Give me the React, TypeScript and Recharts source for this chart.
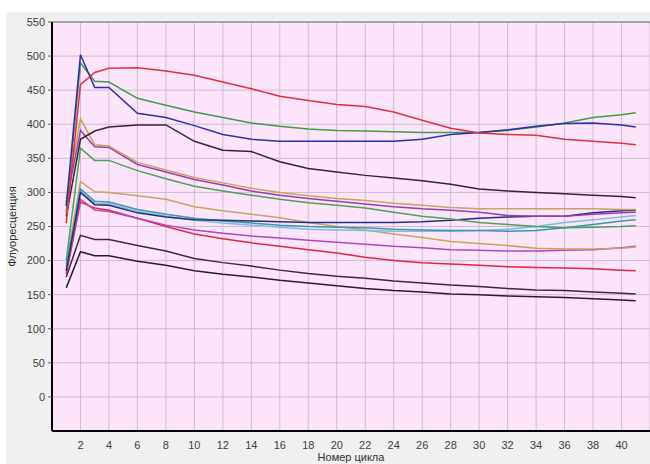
import {
  CartesianGrid,
  Label,
  Line,
  LineChart,
  ReferenceLine,
  XAxis,
  YAxis,
} from "recharts";

// номер цикла
const cycles = [1, 2, 3, 4, 6, 8, 10, 12, 14, 16, 18, 20, 22, 24, 26, 28, 30, 32, 34, 36, 38, 40, 41];

const xTicks = [2, 4, 6, 8, 10, 12, 14, 16, 18, 20, 22, 24, 26, 28, 30, 32, 34, 36, 38, 40];
const yTicks = [0, 50, 100, 150, 200, 250, 300, 350, 400, 450, 500, 550];

// флуоресценция по циклам
const redTop = [255, 458, 476, 482, 483, 478, 472, 462, 452, 441, 435, 429, 426, 418, 406, 394, 387, 385, 384, 378, 375, 372, 370];
const blueTop = [280, 502, 454, 454, 416, 410, 398, 385, 378, 375, 375, 375, 375, 375, 378, 385, 388, 392, 397, 401, 402, 399, 396];
const greenTop = [270, 490, 463, 462, 438, 428, 418, 410, 402, 397, 393, 391, 390, 389, 388, 388, 388, 391, 396, 402, 410, 414, 417];
const blackTop = [265, 378, 390, 396, 399, 399, 375, 362, 360, 345, 335, 330, 325, 321, 317, 312, 305, 302, 300, 298, 296, 294, 292];
const tanTop = [290, 408, 370, 368, 344, 333, 322, 314, 306, 300, 295, 291, 288, 284, 281, 278, 276, 276, 276, 276, 276, 275, 275];
const purpleTop = [285, 391, 367, 366, 341, 330, 319, 311, 302, 296, 291, 287, 283, 279, 276, 274, 271, 266, 265, 265, 268, 270, 271];
const greenMid = [200, 365, 347, 347, 332, 320, 309, 302, 296, 290, 285, 281, 277, 271, 265, 261, 256, 253, 250, 248, 249, 250, 251];
const tanLow = [195, 316, 301, 300, 295, 290, 279, 273, 268, 263, 256, 250, 245, 239, 234, 228, 225, 222, 218, 217, 217, 218, 220];
const teal = [190, 305, 287, 286, 275, 268, 262, 258, 255, 252, 250, 249, 248, 246, 245, 244, 244, 243, 244, 248, 253, 258, 260];
const navy = [185, 300, 282, 281, 270, 264, 260, 259, 258, 257, 256, 256, 256, 256, 257, 259, 262, 264, 265, 265, 270, 273, 274];
const lightBlue = [195, 302, 284, 283, 272, 265, 259, 255, 252, 249, 246, 245, 244, 243, 243, 243, 244, 246, 250, 256, 260, 264, 266];
const magenta = [185, 290, 274, 272, 262, 252, 245, 240, 236, 233, 230, 227, 224, 221, 219, 216, 215, 214, 214, 215, 216, 219, 221];
const redLow = [180, 286, 277, 274, 262, 250, 239, 232, 226, 221, 216, 211, 205, 200, 197, 195, 193, 191, 190, 189, 188, 186, 185];
const black1 = [176, 237, 231, 231, 222, 214, 203, 197, 192, 186, 181, 177, 174, 170, 167, 164, 162, 159, 157, 156, 154, 152, 151];
const black2 = [160, 213, 207, 207, 199, 193, 185, 180, 176, 171, 167, 163, 159, 156, 154, 151, 150, 148, 147, 146, 144, 142, 141];

const series = [
  { key: "black2", values: black2, color: "#2a1e2a" },
  { key: "black1", values: black1, color: "#3a2a3a" },
  { key: "redLow", values: redLow, color: "#e0283a" },
  { key: "magenta", values: magenta, color: "#b244c4" },
  { key: "tanLow", values: tanLow, color: "#c9a260" },
  { key: "lightBlue", values: lightBlue, color: "#7cbce0" },
  { key: "teal", values: teal, color: "#3a98a8" },
  { key: "navy", values: navy, color: "#22307e" },
  { key: "greenMid", values: greenMid, color: "#4ba05a" },
  { key: "purpleTop", values: purpleTop, color: "#9a3cb0" },
  { key: "tanTop", values: tanTop, color: "#c9a260" },
  { key: "blackTop", values: blackTop, color: "#3a2038" },
  { key: "greenTop", values: greenTop, color: "#3f9a4a" },
  { key: "blueTop", values: blueTop, color: "#2e2eaa" },
  { key: "redTop", values: redTop, color: "#e0303a" },
];

const data = cycles.map((c, i) => {
  const row: Record<string, number> = { cycle: c };
  series.forEach((s) => {
    row[s.key] = s.values[i];
  });
  return row;
});

const font = "'Liberation Sans', Arial, sans-serif";

export default function App() {
  return (
    <div style={{ position: "absolute", left: 0, top: 0, width: 650, height: 464, background: "#ffffff", overflow: "hidden" }}>
      <div style={{ position: "absolute", left: 6, top: 12, right: 0, bottom: 0, background: "#f0f0f0" }} />
      <div style={{ position: "absolute", left: 0, top: 0 }}>
        <LineChart width={650} height={464} data={data} margin={{ top: 22, right: 0, bottom: 0, left: 0 }}>
          <CartesianGrid stroke="#cdbccd" fill="#fce4fa" fillOpacity={1} />
          <XAxis
            dataKey="cycle"
            type="number"
            domain={[0, 42]}
            ticks={xTicks}
            height={33}
            axisLine={{ stroke: "#000", strokeWidth: 2 }}
            tickLine={false}
            tickMargin={4}
            tick={{ fontSize: 11, fill: "#404040", fontFamily: font }}
          >
            <Label
              content={({ viewBox }: any) => (
                <text
                  x={viewBox.x + viewBox.width / 2}
                  y={461}
                  textAnchor="middle"
                  fontSize={11}
                  fill="#303030"
                  fontFamily={font}
                >
                  Номер цикла
                </text>
              )}
            />
          </XAxis>
          <YAxis
            type="number"
            domain={[-50, 550]}
            ticks={yTicks}
            width={52}
            axisLine={{ stroke: "#000", strokeWidth: 2 }}
            tickLine={{ stroke: "#606060" }}
            tickSize={4}
            tickMargin={3}
            tick={{ fontSize: 11, fill: "#404040", fontFamily: font }}
          >
            <Label
              content={({ viewBox }: any) => {
                const x = viewBox.x + 12;
                const y = viewBox.y + viewBox.height / 2;
                return (
                  <text
                    x={x}
                    y={y}
                    transform={`rotate(-90 ${x} ${y})`}
                    textAnchor="middle"
                    dominantBaseline="central"
                    fontSize={11}
                    fill="#303030"
                    fontFamily={font}
                  >
                    Флуоресценция
                  </text>
                );
              }}
            />
          </YAxis>
          <ReferenceLine y={550} stroke="#707070" strokeWidth={1} />
          {series.map((s) => (
            <Line
              key={s.key}
              dataKey={s.key}
              type="linear"
              stroke={s.color}
              strokeWidth={1.5}
              dot={false}
              activeDot={false}
              isAnimationActive={false}
            />
          ))}
        </LineChart>
      </div>
    </div>
  );
}
